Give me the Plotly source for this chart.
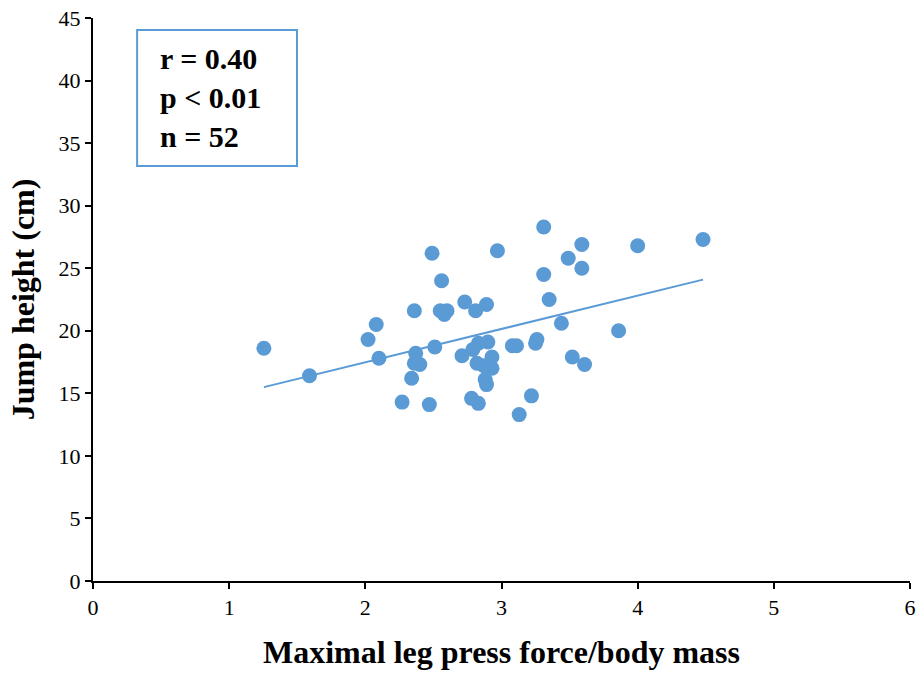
import numpy as np
import plotly.graph_objects as go

leg_press = [1.255, 1.59, 2.02, 2.08, 2.10, 2.27, 2.34, 2.36, 2.37, 2.36, 2.40, 2.47, 2.49,
             2.51, 2.56, 2.55, 2.58, 2.60, 2.71, 2.73, 2.78, 2.81, 2.79, 2.83, 2.82, 2.83,
             2.89, 2.90, 2.87, 2.88, 2.89, 2.93, 2.93, 2.97, 3.08, 3.11, 3.13, 3.22, 3.25,
             3.26, 3.31, 3.31, 3.35, 3.44, 3.49, 3.52, 3.59, 3.59, 3.61, 3.86, 4.00, 4.48]
jump_height = [18.6, 16.4, 19.3, 20.5, 17.8, 14.3, 16.2, 21.6, 18.2, 17.4, 17.3, 14.1, 26.2,
               18.7, 24.0, 21.6, 21.3, 21.6, 18.0, 22.3, 14.6, 21.6, 18.5, 19.0, 17.4, 14.2,
               22.1, 19.1, 17.2, 16.1, 15.7, 17.9, 17.0, 26.4, 18.8, 18.8, 13.3, 14.8, 19.0,
               19.3, 28.3, 24.5, 22.5, 20.6, 25.8, 17.9, 26.9, 25.0, 17.3, 20.0, 26.8, 27.3]

x_ticks = [0, 1, 2, 3, 4, 5, 6]
y_ticks = [0, 5, 10, 15, 20, 25, 30, 35, 40, 45]
stats_lines = ["r = 0.40", "p &lt; 0.01", "n = 52"]

BLUE = "#5B9BD5"
FONT = "Liberation Serif, Times New Roman, serif"

slope, intercept = np.polyfit(leg_press, jump_height, 1)
xfit = np.array([min(leg_press), max(leg_press)])
yfit = slope * xfit + intercept

fig = go.Figure()
fig.add_trace(go.Scatter(x=xfit, y=yfit, mode="lines",
                         line=dict(color=BLUE, width=2), hoverinfo="skip", showlegend=False))
fig.add_trace(go.Scatter(x=leg_press, y=jump_height, mode="markers",
                         marker=dict(color=BLUE, size=15, line=dict(width=0)),
                         showlegend=False))

fig.add_shape(type="rect", xref="paper", yref="paper",
              x0=0.054, x1=0.2497, y0=0.737, y1=0.9787,
              line=dict(color=BLUE, width=2), fillcolor="white", layer="below")
fig.add_annotation(xref="paper", yref="paper", x=0.079, y=0.858, xanchor="left", yanchor="middle",
                   text="<b>" + "<br>".join(stats_lines) + "</b>", showarrow=False, align="left",
                   font=dict(family=FONT, size=30, color="black"))

fig.update_layout(
    width=922, height=673,
    margin=dict(l=93, r=12, t=18, b=92),
    plot_bgcolor="white", paper_bgcolor="white",
    font=dict(family=FONT, color="black"),
    xaxis=dict(range=[0, 6], tickvals=x_ticks, showgrid=False, zeroline=False,
               showline=True, linecolor="black", linewidth=2, automargin=False,
               ticks="outside", ticklen=6, tickwidth=2, tickcolor="black",
               tickfont=dict(family=FONT, size=22, color="black"),
               title=dict(text="<b>Maximal leg press force/body mass</b>",
                          font=dict(family=FONT, size=32, color="black"), standoff=21)),
    yaxis=dict(range=[0, 45], tickvals=y_ticks, showgrid=False, zeroline=False,
               showline=True, linecolor="black", linewidth=2, automargin=False,
               ticks="outside", ticklen=6, tickwidth=2, tickcolor="black",
               tickfont=dict(family=FONT, size=22, color="black"),
               title=dict(text="<b>Jump height (cm)</b>",
                          font=dict(family=FONT, size=32, color="black"), standoff=14)),
)

fig.write_html("out.html", config={"displayModeBar": False},
               post_script="document.body.style.margin='0';")
